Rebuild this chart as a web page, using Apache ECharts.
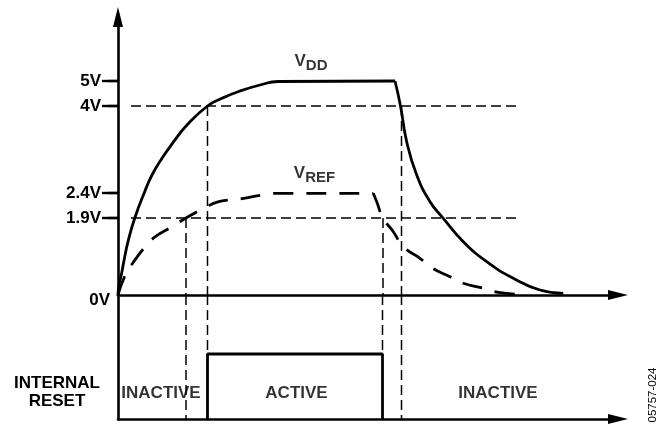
<!DOCTYPE html>
<html><head><meta charset="utf-8">
<script src="https://cdn.jsdelivr.net/npm/echarts@6/dist/echarts.min.js"></script>
<style>html,body{margin:0;padding:0;background:#fff}#c{width:666px;height:429px}</style>
</head><body><div id="c"></div>
<script>
// ---- data (schematic diagram units: time 0..100, level in diagram units) ----
const vddTime  = [0, 0.2, 0.66, 1.3, 2, 3.34, 5.34, 6.8, 8.8, 11.14, 13.8, 17.9, 20.8, 24.4, 28.4, 32, 55.4, 56.5, 57.74, 59.74, 62.4, 65.06, 69.06, 73.74, 79.06, 84.4, 89.06];
const vddLevel = [0, 10, 20, 37, 53.3, 76.7, 103.3, 120, 136.7, 153.3, 170, 189, 196.7, 204, 210, 213.5, 214, 189, 153.3, 120, 93.3, 76.7, 53.3, 33.3, 16.7, 5, 1.7];
const vddFallIndex = 16;   // index where the plateau ends and the decay starts
const vrefTime  = [0, 1.46, 3.14, 5.46, 7.46, 10.8, 13.6, 17.14, 20.14, 24.4, 29.74, 32.4, 51.06, 51.74, 53, 55.06, 57.06, 60.4, 62.74, 66.4, 69.06, 73.06, 76.06, 80.06];
const vrefLevel = [0, 20, 33.3, 48.3, 58.3, 68.3, 77, 86.7, 93.3, 96, 100.7, 101.7, 101.7, 93.3, 77, 63.3, 48.3, 36.7, 27.3, 18.3, 11.7, 6.7, 2.7, 0.7];
const vrefFallIndex = 12;
const yTickLevels = [0, 77, 102, 189, 214];
const yTickLabels = ['0V', '1.9V', '2.4V', '4V', '5V'];
const thresholdLevels = [189, 77];          // 4V, 1.9V
const thresholdSpan = [2.6, 80.4];
const vddCross4V = [17.9, 56.7];
const vrefCross19V = [13.6, 53];
const resetEdges = [17.9, 52.9];
const resetActiveLevel = 65;
const resetStateLabels = ['INACTIVE', 'ACTIVE', 'INACTIVE'];
const resetStateTimes = [8.6, 35.7, 76];
const resetLabelLevel = 26;
const curveLabelSubs = ['DD', 'REF'];
const curveLabelTimes = [38.6, 39.3];
const curveLabelLevels = [234, 122];

// ---- chart ----
const BLACK = '#000';
const FONT = '"Liberation Sans", Arial, sans-serif';
const TOP_MAX = 278, BOT_MAX = 124;
const zip = (a, b) => a.map((v, i) => [v, b[i]]);
const thin = { color: BLACK, width: 1.5, type: [10, 5] };
function seg(xi, yi, pts, style, z) {
  return { type: 'line', xAxisIndex: xi, yAxisIndex: yi, data: pts, symbol: 'none', showSymbol: false,
           lineStyle: style, z: z || 2, silent: true, animation: false };
}
const series = [];
thresholdLevels.forEach(l => series.push(seg(0, 0, [[thresholdSpan[0], l], [thresholdSpan[1], l]], thin, 1)));
vddCross4V.forEach(t => series.push(seg(0, 0, [[t, thresholdLevels[0]], [t, 0]], thin, 1)));
vrefCross19V.forEach(t => series.push(seg(0, 0, [[t, thresholdLevels[1]], [t, 0]], thin, 1)));
series.push(seg(1, 2, [[vrefCross19V[0], BOT_MAX], [vrefCross19V[0], 0]], thin, 1));
series.push(seg(1, 2, [[vddCross4V[1], BOT_MAX], [vddCross4V[1], 0]], thin, 1));
series.push(seg(1, 2, [[resetEdges[0], BOT_MAX], [resetEdges[0], resetActiveLevel]], thin, 1));
series.push(seg(1, 2, [[resetEdges[1], BOT_MAX], [resetEdges[1], resetActiveLevel]], thin, 1));
const vddPts = zip(vddTime, vddLevel), vrefPts = zip(vrefTime, vrefLevel);
const vddStyle = { color: BLACK, width: 2.8 };
const vrefStyle = { color: BLACK, width: 2.8, type: [20, 13] };
series.push(Object.assign(seg(0, 0, vddPts.slice(0, vddFallIndex + 1), vddStyle, 5), { smooth: 0.5, name: 'VDD' }));
series.push(Object.assign(seg(0, 0, vddPts.slice(vddFallIndex), vddStyle, 5), { smooth: 0.5, name: 'VDD' }));
series.push(Object.assign(seg(0, 0, vrefPts.slice(0, vrefFallIndex + 1), vrefStyle, 5), { smooth: 0.5, name: 'VREF' }));
series.push(Object.assign(seg(0, 0, vrefPts.slice(vrefFallIndex), vrefStyle, 5), { smooth: 0.5, name: 'VREF' }));
series.push(seg(1, 2, [[resetEdges[0], 0], [resetEdges[0], resetActiveLevel], [resetEdges[1], resetActiveLevel], [resetEdges[1], 0]],
  { color: BLACK, width: 2.8 }, 5));
series.push({
  type: 'scatter', xAxisIndex: 0, yAxisIndex: 0, symbolSize: 0, silent: true, animation: false, z: 10,
  data: curveLabelTimes.map((t, i) => [t, curveLabelLevels[i]]),
  label: { show: true, position: 'inside', formatter: p => '{v|V}{s|' + curveLabelSubs[p.dataIndex] + '}',
    rich: {
      v: { fontFamily: FONT, fontWeight: 'bold', fontSize: 17, color: BLACK },
      s: { fontFamily: FONT, fontWeight: 'bold', fontSize: 15, color: BLACK, padding: [10, 0, 0, 0] }
    } }
});
series.push({
  type: 'scatter', xAxisIndex: 1, yAxisIndex: 2, symbolSize: 0, silent: true, animation: false, z: 10,
  data: resetStateTimes.map(t => [t, resetLabelLevel]),
  label: { show: true, position: 'inside', formatter: p => resetStateLabels[p.dataIndex],
    fontFamily: FONT, fontWeight: 'bold', fontSize: 17, color: BLACK }
});

const axisLineStyle = { color: BLACK, width: 2.6 };
const labelBase = { fontFamily: FONT, fontWeight: 'bold', fontSize: 17, color: BLACK };
const option = {
  animation: false,
  backgroundColor: '#fff',
  grid: [
    { left: 118, top: 17, width: 500, height: TOP_MAX },
    { left: 118, top: 17 + TOP_MAX, width: 500, height: BOT_MAX }
  ],
  xAxis: [
    { gridIndex: 0, type: 'value', min: 0, max: 100,
      axisLine: { show: true, onZero: false, symbol: ['none', 'triangle'], symbolSize: [10, 20], lineStyle: axisLineStyle },
      axisTick: { show: false }, axisLabel: { show: false }, splitLine: { show: false } },
    { gridIndex: 1, type: 'value', min: 0, max: 100,
      axisLine: { show: true, onZero: false, symbol: ['none', 'triangle'], symbolSize: [10, 20], lineStyle: axisLineStyle },
      axisTick: { show: false }, axisLabel: { show: false }, splitLine: { show: false } }
  ],
  yAxis: [
    { gridIndex: 0, type: 'value', min: 0, max: TOP_MAX,
      axisLine: { show: true, onZero: false, symbol: ['none', 'triangle'], symbolSize: [10, 20], lineStyle: axisLineStyle },
      axisTick: { show: true, customValues: yTickLevels.slice(1), length: 16, lineStyle: { color: BLACK, width: 2.4 } },
      axisLabel: Object.assign({}, labelBase, { show: true, customValues: yTickLevels, margin: 8,
        formatter: v => { const i = yTickLevels.indexOf(v); return i === 0 ? '{z|' + yTickLabels[0] + '}' : '{a|' + yTickLabels[i] + '}'; },
        rich: { a: Object.assign({}, labelBase, { padding: [0, 9, 0, 0] }), z: Object.assign({}, labelBase, { padding: [10, 0, 0, 0] }) } }),
      splitLine: { show: false } },
    { gridIndex: 0, type: 'value', min: 0, max: TOP_MAX,
      axisLine: { show: false },
      axisTick: { show: true, inside: true, customValues: yTickLevels.slice(1), length: 10, lineStyle: { color: BLACK, width: 2.4 } },
      axisLabel: { show: false }, splitLine: { show: false } },
    { gridIndex: 1, type: 'value', min: 0, max: BOT_MAX,
      axisLine: { show: true, onZero: false, lineStyle: axisLineStyle },
      axisTick: { show: false }, axisLabel: { show: false }, splitLine: { show: false } }
  ],
  graphic: [
    { type: 'text', x: 57, y: 392, silent: true,
      style: { text: 'INTERNAL\nRESET', fill: BLACK, font: 'bold 17px ' + FONT, align: 'center', verticalAlign: 'middle', lineHeight: 18 } },
    { type: 'text', x: 653, y: 395, rotation: Math.PI / 2, silent: true,
      style: { text: '05757-024', fill: BLACK, font: '11.5px ' + FONT, align: 'center', verticalAlign: 'middle' } }
  ],
  series: series
};
const chart = echarts.init(document.getElementById('c'));
chart.setOption(option);
</script>
</body></html>
